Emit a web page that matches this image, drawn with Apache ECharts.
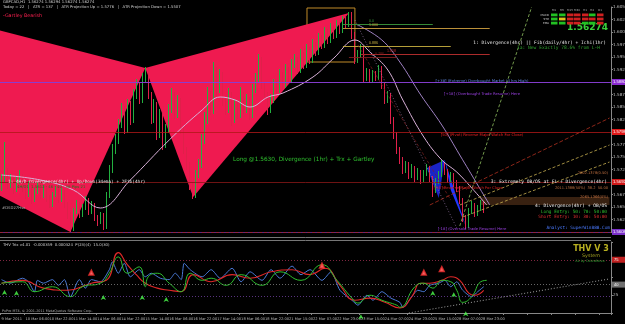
<!DOCTYPE html>
<html><head><meta charset="utf-8">
<script src="https://cdn.jsdelivr.net/npm/echarts@6/dist/echarts.min.js"></script>
<style>html,body{margin:0;padding:0;background:#000;}#c{width:625px;height:324px;}</style>
</head><body><div id="c"></div>
<script>
// ---------------- DATA ----------------
const timeLabels = ['9 Mar 2011','10 Mar 06:00','10 Mar 22:00','11 Mar 14:00','14 Mar 06:00','14 Mar 22:00','15 Mar 14:00','16 Mar 06:00','16 Mar 22:00','17 Mar 14:00','18 Mar 06:00','18 Mar 22:00','21 Mar 15:00','22 Mar 07:00','22 Mar 23:00','23 Mar 15:00','24 Mar 07:00','24 Mar 23:00','25 Mar 15:00','28 Mar 07:00','28 Mar 23:00'];
const firstOpen = 1.5690;
const closes = [
1.5704,1.5720,1.5694,1.5708,1.5684,1.5700,1.5712,1.5688,1.5674,1.5694,
1.5664,1.5680,1.5692,1.5672,1.5688,1.5668,1.5654,1.5674,1.5684,1.5664,
1.5680,1.5654,1.5634,1.5604,1.5640,1.5654,1.5634,1.5648,1.5664,1.5640,
1.5654,1.5628,1.5620,1.5634,1.5610,1.5674,1.5724,1.5764,1.5784,1.5814,
1.5844,1.5804,1.5854,1.5824,1.5874,1.5894,1.5864,1.5908,1.5924,1.5874,
1.5824,1.5854,1.5794,1.5834,1.5774,1.5804,1.5844,1.5874,1.5834,1.5864,
1.5804,1.5764,1.5734,1.5694,1.5670,1.5714,1.5734,1.5784,1.5824,1.5874,
1.5844,1.5924,1.5884,1.5914,1.5864,1.5844,1.5874,1.5824,1.5854,1.5834,
1.5874,1.5844,1.5864,1.5834,1.5884,1.5904,1.5944,1.5894,1.5874,1.5844,
1.5864,1.5894,1.5884,1.5914,1.5894,1.5924,1.5904,1.5934,1.5944,1.5924,
1.5954,1.5934,1.5964,1.5944,1.5974,1.5960,1.5988,1.5974,1.6000,1.5984,
1.6008,1.5994,1.6014,1.6004,1.6024,1.6016,1.6036,1.5994,1.5944,1.5954,
1.5968,1.5908,1.5920,1.5904,1.5916,1.5908,1.5928,1.5894,1.5864,1.5874,
1.5824,1.5794,1.5764,1.5744,1.5724,1.5734,1.5712,1.5728,1.5708,1.5720,
1.5704,1.5716,1.5728,1.5708,1.5684,1.5700,1.5714,1.5734,1.5720,1.5704,
1.5714,1.5698,1.5688,1.5664,1.5628,1.5612,1.5640,1.5654,1.5636,1.5648,
1.5658,1.5644];
const highs = [
1.5716,1.5780,1.5728,1.5716,1.5712,1.5710,1.5724,1.5716,1.5694,1.5702,
1.5698,1.5688,1.5700,1.5698,1.5694,1.5692,1.5674,1.5680,1.5692,1.5690,
1.5688,1.5684,1.5660,1.5640,1.5648,1.5664,1.5660,1.5656,1.5672,1.5668,
1.5662,1.5658,1.5634,1.5640,1.5638,1.5680,1.5734,1.5776,1.5796,1.5826,
1.5858,1.5852,1.5866,1.5862,1.5886,1.5906,1.5900,1.5918,1.5930,1.5928,
1.5880,1.5866,1.5860,1.5846,1.5840,1.5816,1.5856,1.5888,1.5880,1.5874,
1.5868,1.5810,1.5770,1.5740,1.5700,1.5724,1.5746,1.5796,1.5840,1.5890,
1.5882,1.5940,1.5930,1.5926,1.5920,1.5872,1.5888,1.5880,1.5866,1.5862,
1.5890,1.5880,1.5876,1.5870,1.5896,1.5918,1.5956,1.5950,1.5900,1.5880,
1.5876,1.5906,1.5902,1.5926,1.5920,1.5936,1.5930,1.5946,1.5956,1.5950,
1.5966,1.5960,1.5976,1.5970,1.5986,1.5980,1.5998,1.5994,1.6010,1.6006,
1.6018,1.6014,1.6024,1.6020,1.6032,1.6030,1.6040,1.6040,1.6000,1.5964,
1.5976,1.5972,1.5928,1.5926,1.5924,1.5922,1.5934,1.5932,1.5898,1.5882,
1.5878,1.5830,1.5800,1.5770,1.5750,1.5742,1.5740,1.5736,1.5732,1.5728,
1.5724,1.5724,1.5736,1.5732,1.5712,1.5708,1.5722,1.5744,1.5740,1.5726,
1.5720,1.5718,1.5704,1.5692,1.5668,1.5634,1.5648,1.5662,1.5658,1.5654,
1.5664,1.5662];
const lows = [
1.5682,1.5698,1.5686,1.5688,1.5676,1.5680,1.5696,1.5680,1.5666,1.5670,
1.5656,1.5660,1.5676,1.5666,1.5668,1.5660,1.5648,1.5650,1.5670,1.5658,
1.5660,1.5648,1.5626,1.5600,1.5602,1.5636,1.5628,1.5630,1.5644,1.5634,
1.5636,1.5622,1.5612,1.5616,1.5604,1.5606,1.5668,1.5718,1.5756,1.5776,
1.5808,1.5796,1.5798,1.5814,1.5818,1.5866,1.5856,1.5858,1.5900,1.5866,
1.5816,1.5818,1.5784,1.5788,1.5764,1.5768,1.5798,1.5838,1.5826,1.5828,
1.5796,1.5756,1.5724,1.5684,1.5666,1.5668,1.5708,1.5728,1.5776,1.5816,
1.5834,1.5836,1.5872,1.5878,1.5852,1.5834,1.5838,1.5812,1.5818,1.5826,
1.5828,1.5836,1.5838,1.5824,1.5828,1.5878,1.5898,1.5886,1.5864,1.5834,
1.5838,1.5858,1.5876,1.5878,1.5886,1.5888,1.5896,1.5898,1.5928,1.5916,
1.5918,1.5926,1.5928,1.5936,1.5938,1.5952,1.5954,1.5966,1.5968,1.5976,
1.5978,1.5986,1.5988,1.5996,1.5998,1.6008,1.6010,1.5986,1.5936,1.5938,
1.5948,1.5900,1.5902,1.5898,1.5900,1.5902,1.5904,1.5886,1.5856,1.5858,
1.5816,1.5786,1.5756,1.5736,1.5716,1.5718,1.5706,1.5708,1.5700,1.5704,
1.5696,1.5700,1.5712,1.5700,1.5670,1.5678,1.5696,1.5710,1.5714,1.5698,
1.5698,1.5690,1.5680,1.5656,1.5620,1.5606,1.5608,1.5636,1.5630,1.5632,
1.5642,1.5638];
const maFast = [[0,1.5714],[13,1.5704],[24,1.5684],[33,1.5648],[43,1.5704],[56,1.5784],[67,1.5844],[73,1.5870],[78,1.5864],[83,1.5850],[89,1.5870],[94,1.5878],[104,1.5910],[111,1.5948],[118,1.5984],[123,1.5960],[129,1.5924],[134,1.5864],[141,1.5790],[147,1.5744],[152,1.5720],[157,1.5688],[162,1.5654]];
const maSlow = [[119,1.6014],[127,1.5984],[133,1.5940],[140,1.5874],[147,1.5814],[153,1.5754],[159,1.5694],[163,1.5654]];
const gartleyBearXAB = [[-1,1.6004],[48,1.5928],[23,1.5600],[-1,1.5674]];
const gartleyBearBCD = [[48,1.5928],[64,1.5670],[116,1.6038]];
const gartleyBullXAB = [[142,1.5728],[146,1.5668],[148,1.5744]];
const gartleyBullBCD = [[148,1.5744],[150,1.5684],[155,1.5612]];
const levelPrices = [1.5908,1.5880,1.5798,1.5692,1.5640,1.5608,1.5602];
const fibNames = ['0.0','1.000','0.886','1.618','0.786'];
const fibPrices = [1.6016,1.6008,1.5972,1.5956,1.5950];
const fibFrom = [114,114,114,120,116];
const fibTo = [144,163,150,163,132];
const trendLines = [
  [[153,1.5612],[177,1.6050]],
  [[143,1.5654],[203,1.5828]],
  [[153,1.5654],[203,1.5774]],
  [[154,1.5630],[203,1.5740]],
  [[118,1.6024],[152,1.5608]],
  [[119,1.5974],[150,1.5664]]
];
const boxRange = [[102,1.6048],[118,1.5940]];
const zoneRange = [[160,1.5670],[203,1.5654]];
// lower indicator (THV Trix)
const trixBlue = [[0,47],[3,42],[7,49],[9,44],[11,30],[12,46],[14,42],[17,47],[19,39],[21,47],[23,23],[26,47],[28,35],[30,47],[33,44],[36,61],[37,72],[39,56],[41,70],[43,51],[46,61],[48,51],[50,56],[53,49],[56,47],[58,56],[60,47],[61,70],[63,61],[67,51],[70,61],[73,49],[77,63],[80,44],[83,58],[87,46],[90,61],[93,49],[97,66],[100,54],[103,61],[107,46],[110,58],[113,32],[117,18],[119,11],[122,25],[124,18],[127,30],[130,21],[133,15],[134,8],[137,23],[139,32],[141,30],[143,39],[146,42],[148,46],[150,37],[152,44],[154,32],[157,23],[159,30],[161,37]];
const trixRed = [[0,42],[7,46],[14,35],[22,32],[30,42],[35,46],[39,85],[42,68],[45,54],[48,42],[52,35],[56,32],[60,30],[64,54],[70,44],[77,54],[83,49],[90,58],[97,61],[103,54],[108,63],[113,39],[118,18],[123,21],[128,15],[133,7],[137,23],[140,42],[143,42],[147,46],[150,51],[153,46],[156,28],[158,25],[161,32]];
const trixGreen = [[0,42],[7,44],[11,30],[17,37],[23,23],[27,37],[33,42],[36,56],[39,79],[42,56],[46,65],[48,37],[49,51],[52,56],[56,42],[60,30],[63,56],[67,46],[70,49],[75,39],[80,54],[87,39],[93,58],[100,46],[107,68],[112,46],[117,21],[119,14],[123,25],[127,18],[132,11],[133,8],[138,37],[141,42],[144,35],[147,46],[150,44],[152,32],[154,15],[157,23],[160,44],[162,46]];
const arrowsUp = [[1,38],[5,37],[34,31],[47,31],[55,28],[120,4],[144,37],[151,35],[155,8]];
const arrowsDown = [[30,51],[107,61],[141,51],[147,56]];
const lowerLevels = [75,40,23,3];
const lowerTrend = [[136,0],[203,48]];
const signalRows = ['MACD','STR','EMA'];
const signalCols = ['M1','M5','M15','M30','H1','H4','D1'];
const signalStates = [['G','G','R','R','R','G','R'],['G','Y','R','R','R','R','R'],['G','G','R','R','G','G','R']];

// ---------------- BUILD ----------------
const N = 204;
const cats = Array.from({length:N}, (_, i) => String(i));
const candleData = closes.map((c, i) => {
  const o = i === 0 ? firstOpen : closes[i-1];
  return [o, c, lows[i], highs[i]];
});
function polySeries(polys, colors, z){
  return {type:'custom', xAxisIndex:0, yAxisIndex:0, clip:true, z:z, silent:true, animation:false,
    data: polys.map(p => p[1]),
    renderItem(params, api){
      const pts = polys[params.dataIndex].map(pt => api.coord(pt));
      return {type:'polygon', shape:{points:pts}, style:{fill:colors[params.dataIndex]}};
    }};
}
const levelStyle = [
  {c:'#7f9fe0', t:'solid', box:'#2a72d8'},
  {c:'#8a2ad0', t:'solid', box:'#8a2ad0'},
  {c:'#b01818', t:'solid', box:'#e01818'},
  {c:'#8a1818', t:'solid', box:'#d01818'},
  {c:'#3f7a3f', t:'dashed', box:'#5a9090'},
  {c:'#7030b0', t:'solid', box:'#7a30c8'},
  {c:'#a02020', t:'dashed', box:null}
];
const levelMarks = levelPrices.map((p, i) => ({
  yAxis: p,
  lineStyle:{color:levelStyle[i].c, width:0.8, type:levelStyle[i].t},
  label: levelStyle[i].box ? {show:true, position:'end', distance:1, formatter: p.toFixed(4), color:'#fff', fontSize:4.2, backgroundColor:levelStyle[i].box, padding:[1,4,1,1]} : {show:false}
}));
const fibColors = ['#3c9a3c','#d0a040','#c8b040','#c03030','#802020'];
const fibMarks = fibNames.map((n, i) => [
  {coord:[fibFrom[i], fibPrices[i]], lineStyle:{color:fibColors[i], width:0.9, type:'solid'},
   label:{show:true, position:'insideStartTop', formatter:n, color:fibColors[i], fontSize:3.6, distance:[26,1]}},
  {coord:[fibTo[i], fibPrices[i]]}
]);
const trendStyles = [
  {c:'#8fbf60', t:[3,2], w:0.8},
  {c:'#b03020', t:[4,2], w:0.8},
  {c:'#c8b050', t:[3,2], w:0.8},
  {c:'#c8b050', t:[3,2], w:0.8},
  {c:'#a080b0', t:[1,2], w:0.7},
  {c:'#802020', t:[3,2], w:0.7}
];
const trendMarks = trendLines.map((l, i) => [
  {coord:l[0], lineStyle:{color:trendStyles[i].c, type:trendStyles[i].t, width:trendStyles[i].w}, label:{show:false}},
  {coord:l[1]}
]);
const lowerLevelStyle = [
  {c:'#a03050', box:'#c02020', op:1},
  {c:'#808080', box:'#707070', op:1},
  {c:'#7040a0', box:null, op:1},
  {c:'#20a020', box:'#20a020', op:0}
];
const lowerMarks = lowerLevels.map((v, i) => ({
  yAxis: v,
  lineStyle:{color:lowerLevelStyle[i].c, type:[1,2], width:0.8, opacity:lowerLevelStyle[i].op},
  label: lowerLevelStyle[i].box ? {show:true, position:'end', distance:1, formatter:String(v), color:'#fff', fontSize:4, backgroundColor:lowerLevelStyle[i].box, padding:[1,8,1,2]} : {show:false}
}));

const FONT = '"DejaVu Sans", "Liberation Sans", sans-serif';
const MONO = '"DejaVu Sans Mono", "Liberation Mono", monospace';
function txt(x, y, text, fill, size, align, family, weight){
  align = align || 'left';
  return {type:'text', z:100, silent:true, style:{x:x, y:y, text:text, fill:fill,
    font:(weight||'normal') + ' ' + size + 'px ' + (family||FONT),
    align:align, textAlign:align, verticalAlign:'middle', textVerticalAlign:'middle'}};
}
const graphics = [
  {type:'line', z:50, silent:true, shape:{x1:0,y1:237.5,x2:611,y2:237.5}, style:{stroke:'#777', lineWidth:1}},
  {type:'line', z:50, silent:true, shape:{x1:0,y1:240.5,x2:611,y2:240.5}, style:{stroke:'#777', lineWidth:1}},
  txt(3, 2.5, 'GBPCAD,H1  1.56274 1.56294 1.56274 1.56274', '#cfcfcf', 3.8),
  txt(3, 7.5, 'Today = 22   |   ATR = 137   |   ATR Projection Up = 1.5776   |   ATR Projection Down = 1.5507', '#cfcfcf', 3.8),
  txt(3, 16, '-Gartley Bearish', '#ff2050', 4.8),
  txt(608, 27.5, '1.56274', '#3ad13a', 9, 'right', FONT, 'bold'),
  txt(606, 42.5, '1: Divergence(4hr) || Fib(daily/4hr) + Ichi(1hr)', '#e8e8e8', 4.6, 'right', MONO),
  txt(600, 48, '1a: New Exactly 78.6% from L-H', '#2fa02f', 4.6, 'right', MONO),
  txt(482, 81, '[+38] (Extreme) Overbought Market (4 hrs High)', '#6088e0', 3.8, 'center'),
  txt(482, 94.5, '[+18] (Overbought Trade Resume) Here', '#9a40e0', 3.8, 'center'),
  txt(482, 135, '[50] (Pivot) Reverse Major Watch For Close)', '#f02020', 3.8, 'center'),
  txt(468, 188, '[-50] Reverse Major Watch For Close', '#e02020', 3.8, 'center'),
  txt(472, 229.5, '[-18] (Oversold Trade Resume) Here', '#9a40e0', 3.8, 'center'),
  txt(233, 159, 'Long @1.5630, Divergence (1hr) + Trx + Gartley', '#2fc02f', 5.8),
  txt(8, 182, '1: 4H/D Divergence(4hr) + Up/Down(34ema) + 2Fib(4hr)', '#e0e0e0', 4.4, 'left', MONO),
  txt(17, 187.5, '4H/D1  1.5612 - 46 - 40 - 38 Pips 21', '#1f7a1f', 3.8),
  txt(2, 208, '#DSD27Hsx', '#b0b0b0', 3.8),
  txt(608, 173, '2002.1378(0.50)', '#c07040', 3.6, 'right'),
  txt(608, 188, '2011.1388(50%)  38.2  50.00', '#c07040', 3.6, 'right'),
  txt(608, 197, '2065.1366(0%)', '#c07040', 3.6, 'right'),
  txt(607, 182, '3: Extremely OB/OS at FL + Divergence(4hr)', '#eeeeee', 4.6, 'right', MONO),
  txt(607, 206, '4: Divergence(4hr) + OB/OS', '#eeeeee', 4.6, 'right', MONO),
  txt(607, 211.5, 'Long Entry: 50: 70: 50:00', '#2fc02f', 4.4, 'right', MONO),
  txt(607, 216.5, 'Short Entry: 10: 30: 50:00', '#e03030', 4.4, 'right', MONO),
  txt(610, 228, 'Analyst: SuperWin888.Com', '#4a7aff', 4.4, 'right', MONO),
  txt(3, 245.5, 'THV Trix v4.01  -0.000359  0.000324  P(23)(4)  15.0(30)', '#cfcfcf', 3.8),
  txt(591, 248.5, 'THV V 3', '#b8b020', 8, 'center', FONT, 'bold'),
  txt(591, 255.5, 'System', '#a0a020', 4.8, 'center'),
  txt(590, 261.5, 'Ak by Cobraforex', '#2fa02f', 3.4, 'center'),
  txt(2, 311, 'PxPro MT4, \u00a9 2001-2011 MetaQuotes Software Corp.', '#aaaaaa', 3.4)
];
const colX = [551,559,567,574,582,589,597];
const rowY = [13.5,17.6,21.7];
const stateColor = {G:'#22c022', R:'#d02020', Y:'#e0c020'};
signalCols.forEach((c, j) => graphics.push(txt(colX[j]+3, 10.5, c, '#aaaaaa', 2.8, 'center')));
signalRows.forEach((r, i) => {
  graphics.push(txt(549, rowY[i]+1.3, r, '#cccccc', 2.8, 'right'));
  signalStates[i].forEach((s, j) => graphics.push({type:'rect', z:100, silent:true,
    shape:{x:colX[j], y:rowY[i], width:6.5, height:2.8}, style:{fill:stateColor[s]}}));
});

const chart = echarts.init(document.getElementById('c'), null, {renderer:'canvas'});
chart.setOption({
  backgroundColor:'#000',
  animation:false,
  grid:[
    {left:0, right:14, top:7, bottom:92, containLabel:false, outerBoundsMode:'none'},
    {left:0, right:14, top:242, bottom:11, containLabel:false, outerBoundsMode:'none'}
  ],
  xAxis:[
    {type:'category', gridIndex:0, data:cats, boundaryGap:true, axisLabel:{show:false}, axisTick:{show:false}, axisLine:{show:false}, splitLine:{show:false}},
    {type:'category', gridIndex:1, data:cats, boundaryGap:true,
     axisLine:{show:true, lineStyle:{color:'#888', width:1}},
     axisTick:{show:true, interval:7, length:2, lineStyle:{color:'#888'}},
     axisLabel:{show:true, interval:7, align:'left', margin:4, fontSize:3.6, color:'#bbbbbb', fontFamily:'DejaVu Sans', hideOverlap:false,
       formatter:(v, i) => timeLabels[i/8] || ''},
     splitLine:{show:false}}
  ],
  yAxis:[
    {type:'value', gridIndex:0, position:'right', min:1.5600, max:1.6050, interval:0.0025, scale:true,
     axisLine:{show:true, lineStyle:{color:'#888', width:1}}, axisTick:{show:true, length:2, lineStyle:{color:'#888'}},
     axisLabel:{show:true, fontSize:4.2, color:'#bbbbbb', margin:2, fontFamily:'DejaVu Sans', formatter:v => v.toFixed(4)},
     splitLine:{show:false}},
    {type:'value', gridIndex:1, position:'right', min:0, max:100, interval:25,
     axisLine:{show:true, lineStyle:{color:'#888', width:1}}, axisTick:{show:true, length:2, lineStyle:{color:'#888'}},
     axisLabel:{show:true, fontSize:4.2, color:'#bbbbbb', margin:2, fontFamily:'DejaVu Sans', formatter:v => (v === 75 || v === 25) ? String(v) : ''},
     splitLine:{show:false}}
  ],
  series:[
    polySeries([gartleyBearXAB, gartleyBearBCD], ['#ef1a50','#ef1a50'], 1),
    polySeries([gartleyBullXAB, gartleyBullBCD], ['#1a24c8','#2236ff'], 1),
    {type:'line', xAxisIndex:0, yAxisIndex:0, data:[], z:2, silent:true,
     markLine:{silent:true, symbol:'none', animation:false, data: levelMarks.concat(fibMarks, trendMarks)},
     markArea:{silent:true, animation:false, data:[
       [{coord:boxRange[0], itemStyle:{color:'rgba(0,0,0,0)', borderColor:'#c08a28', borderWidth:1}}, {coord:boxRange[1]}],
       [{coord:zoneRange[0], itemStyle:{color:'rgba(200,120,60,0.28)'}}, {coord:zoneRange[1]}]
     ]}},
    {type:'candlestick', xAxisIndex:0, yAxisIndex:0, data:candleData, z:3, barWidth:1, silent:true,
     itemStyle:{color:'#22b040', color0:'#e0204a', borderColor:'#22b040', borderColor0:'#e0204a', borderWidth:1}},
    {type:'line', xAxisIndex:0, yAxisIndex:0, data:maFast, smooth:0.4, showSymbol:false, z:4, silent:true,
     lineStyle:{color:'#d8b0d8', width:1}},
    {type:'line', xAxisIndex:0, yAxisIndex:0, data:maSlow, smooth:0.4, showSymbol:false, z:4, silent:true,
     lineStyle:{color:'#b090d8', width:0.9}},
    {type:'line', xAxisIndex:1, yAxisIndex:1, data:[], z:2, silent:true,
     markLine:{silent:true, symbol:'none', animation:false, data: lowerMarks.concat([[
       {coord:lowerTrend[0], lineStyle:{color:'#cccccc', type:[1,2], width:0.8}, label:{show:false}}, {coord:lowerTrend[1]}]])}},
    {type:'line', xAxisIndex:1, yAxisIndex:1, data:trixBlue, smooth:0.25, showSymbol:false, z:3, silent:true,
     lineStyle:{color:'#4a7ad8', width:1}},
    {type:'line', xAxisIndex:1, yAxisIndex:1, data:trixRed, smooth:0.5, showSymbol:false, z:4, silent:true,
     lineStyle:{color:'#e02828', width:1.1}},
    {type:'line', xAxisIndex:1, yAxisIndex:1, data:trixGreen, smooth:0.5, showSymbol:false, z:4, silent:true,
     lineStyle:{color:'#2fc02f', width:1}},
    {type:'scatter', xAxisIndex:1, yAxisIndex:1, data:arrowsUp, symbol:'arrow', symbolSize:[4,5], symbolOffset:[0,4], z:5, silent:true,
     itemStyle:{color:'#4dff4d'}},
    {type:'scatter', xAxisIndex:1, yAxisIndex:1, data:arrowsDown, symbol:'emptyTriangle', symbolSize:[4,4], symbolOffset:[0,-4], z:5, silent:true,
     itemStyle:{color:'#ff3030', borderColor:'#ff3030', borderWidth:0.8}}
  ],
  graphic: graphics
});
</script>
</body></html>
